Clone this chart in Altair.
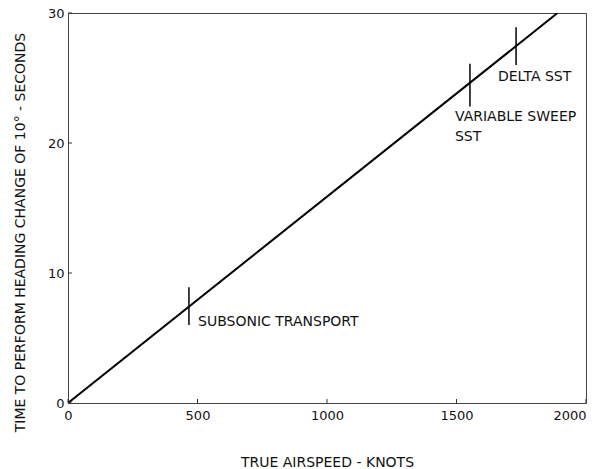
import altair as alt
import pandas as pd

# Main line (airspeed, time)
line_x = [0, 1890]
line_y = [0, 30]

# Aircraft markers: airspeed, tick bottom, tick top
mark_names = ["SUBSONIC TRANSPORT", "VARIABLE SWEEP SST", "DELTA SST"]
mark_x = [467, 1552, 1730]
mark_lo = [6.0, 22.8, 26.0]
mark_hi = [8.9, 26.1, 28.9]

# Annotation labels
label_text = ["SUBSONIC TRANSPORT", "VARIABLE SWEEP", "SST", "DELTA SST"]
label_x = [502, 1494, 1494, 1660]
label_y = [6.2, 22.0, 20.5, 25.1]

x_ticks = [0, 500, 1000, 1500, 2000]
y_ticks = [0, 10, 20, 30]

FONT = "DejaVu Sans"
FS = 14
W, H = 518, 390

xs = alt.Scale(domain=[0, 2000], nice=False, zero=False)
ys = alt.Scale(domain=[0, 30], nice=False, zero=False)

line_df = pd.DataFrame({"x": line_x, "y": line_y})
marks_df = pd.DataFrame({"name": mark_names, "x": mark_x, "lo": mark_lo, "hi": mark_hi})
labels_df = pd.DataFrame({"t": label_text, "x": label_x, "y": label_y})
xt_df = pd.DataFrame({"v": x_ticks})
yt_df = pd.DataFrame({"v": y_ticks})

base_line = alt.Chart(line_df).mark_line(color="black", strokeWidth=2, clip=True).encode(
    x=alt.X("x:Q", scale=xs,
            axis=alt.Axis(values=x_ticks, format="d", title="TRUE AIRSPEED - KNOTS", domain=False,
                          ticks=False, grid=False, labelFont=FONT, labelFontSize=13, labelColor="#111",
                          labelPadding=6, labelFlush=False,
                          labelAlign={"condition": {"test": "datum.value >= 2000", "value": "right"},
                                      "value": "center"},
                          titleFont=FONT, titleFontSize=FS, titleFontWeight="normal", titleColor="#111",
                          titleX=W / 2, titleY=59, titleBaseline="middle")),
    y=alt.Y("y:Q", scale=ys,
            axis=alt.Axis(values=y_ticks, format="d",
                          title="TIME TO PERFORM HEADING CHANGE OF 10° - SECONDS",
                          domain=False, ticks=False, grid=False, labelFont=FONT, labelFontSize=13,
                          labelColor="#111", labelPadding=4,
                          titleFont=FONT, titleFontSize=FS, titleFontWeight="normal", titleColor="#111",
                          titleX=-48, titleY=219, titleAngle=-90, titleAlign="center",
                          titleBaseline="middle")),
)

xtick_marks = alt.Chart(xt_df).mark_rule(color="#333", strokeWidth=1).encode(
    x=alt.X("v:Q", scale=xs), y=alt.value(H), y2=alt.value(H - 4))
ytick_marks = alt.Chart(yt_df).mark_rule(color="#333", strokeWidth=1).encode(
    y=alt.Y("v:Q", scale=ys), x=alt.value(0), x2=alt.value(4))

marker_rules = alt.Chart(marks_df).mark_rule(color="black", strokeWidth=1.5).encode(
    x=alt.X("x:Q", scale=xs), y=alt.Y("lo:Q", scale=ys), y2="hi:Q")

labels = alt.Chart(labels_df).mark_text(
    align="left", baseline="middle", font=FONT, fontSize=FS, color="#111").encode(
    x=alt.X("x:Q", scale=xs), y=alt.Y("y:Q", scale=ys), text="t:N")

chart = alt.layer(base_line, xtick_marks, ytick_marks, marker_rules, labels).properties(
    width=W, height=H,
    autosize=alt.AutoSizeParams(type="none"),
    padding={"left": 68, "top": 13, "right": 6, "bottom": 66},
    background="white",
).configure_view(stroke="#444", strokeWidth=1)

chart.save("out.html", embed_options={"renderer": "svg", "actions": False})
